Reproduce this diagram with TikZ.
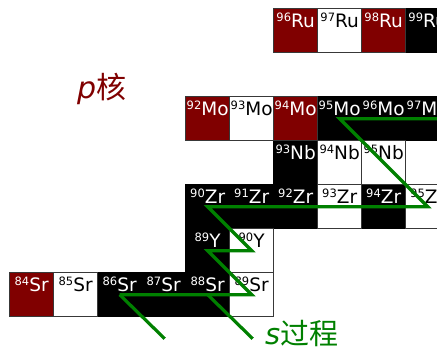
\documentclass[tikz,border=0pt]{standalone}
\usepackage{fontspec}
\setmainfont{DejaVu Sans}[ItalicFont={DejaVu Sans Oblique}]
\newfontfamily\cjk{Noto Sans CJK SC}
\definecolor{nred}{HTML}{800000}
\definecolor{ngreen}{HTML}{008000}
\tikzset{
  cell/.style={rectangle, draw=black!78, line width=1.3pt, minimum width=44pt, minimum height=44pt, inner sep=0pt, anchor=north west},
  bcell/.style={cell, fill=black, draw=black},
  rcell/.style={cell, fill=nred},
  wcell/.style={cell, fill=white},
  lbl/.style={anchor=base, inner sep=0pt},
  spath/.style={draw=ngreen, line width=3.2pt},
  bigtext/.style={anchor=base west, inner sep=0pt},
}
\newcommand\nuc[7]{%
  \node[#4] (#1) at ({9+44*#2},#3) {};
  \node[lbl, text=#5] at ([yshift=-19.5pt]#1.north) {\raisebox{6pt}{\fontsize{11.5}{11.5}\selectfont #6}\fontsize{18.5}{18.5}\selectfont #7};
}
\begin{document}
\begin{tikzpicture}[x=1pt,y=-1pt]
\useasboundingbox (0,0) rectangle (437,357);
\clip (0,0) rectangle (437,357);
% black cells first
\nuc{Sr86}{2}{272}{bcell}{white}{86}{Sr}
\nuc{Sr87}{3}{272}{bcell}{white}{87}{Sr}
\nuc{Sr88}{4}{272}{bcell}{white}{88}{Sr}
\nuc{Y89}{4}{228}{bcell}{white}{89}{Y}
\nuc{Zr90}{4}{184}{bcell}{white}{90}{Zr}
\nuc{Zr91}{5}{184}{bcell}{white}{91}{Zr}
\nuc{Zr92}{6}{184}{bcell}{white}{92}{Zr}
\nuc{Zr94}{8}{184}{bcell}{white}{94}{Zr}
\nuc{Nb93}{6}{140}{bcell}{white}{93}{Nb}
\nuc{Mo95}{7}{96}{bcell}{white}{95}{Mo}
\nuc{Mo96}{8}{96}{bcell}{white}{96}{Mo}
\nuc{Mo97}{9}{96}{bcell}{white}{97}{Mo}
\nuc{Ru99}{9}{8}{bcell}{white}{99}{Ru}
% other cells
\nuc{Sr84}{0}{272}{rcell}{white}{84}{Sr}
\nuc{Sr85}{1}{272}{wcell}{black}{85}{Sr}
\nuc{Sr89}{5}{272}{wcell}{black}{89}{Sr}
\nuc{Y90}{5}{228}{wcell}{black}{90}{Y}
\nuc{Zr93}{7}{184}{wcell}{black}{93}{Zr}
\nuc{Zr95}{9}{184}{wcell}{black}{95}{Zr}
\nuc{Nb94}{7}{140}{wcell}{black}{94}{Nb}
\nuc{Nb95}{8}{140}{wcell}{black}{95}{Nb}
\nuc{Mo92}{4}{96}{rcell}{white}{92}{Mo}
\nuc{Mo93}{5}{96}{wcell}{black}{93}{Mo}
\nuc{Mo94}{6}{96}{rcell}{white}{94}{Mo}
\nuc{Ru96}{6}{8}{rcell}{white}{96}{Ru}
\nuc{Ru97}{7}{8}{wcell}{black}{97}{Ru}
\nuc{Ru98}{8}{8}{rcell}{white}{98}{Ru}
% s-process path
\coordinate (moend) at ([xshift=140pt]Mo95.center);
\coordinate (e1) at ([shift={(45pt,-44pt)}]Sr86.center);
\coordinate (e2) at ([shift={(45pt,-44pt)}]Sr88.center);
\draw[spath] (Sr86.center) -- (Sr89.center) -- (Y89.center) -- (Y90.center)
  -- (Zr90.center) -- (Zr95.center) -- (Mo95.center) -- (moend);
\draw[spath] (Sr86.center) -- (e1);
\draw[spath] (Sr88.center) -- (e2);
% labels
\node[bigtext, text=nred] (plabel) at (77,98) {\fontsize{30}{30}\selectfont\textit{p}{\cjk 核}};
\node[bigtext, text=ngreen] (slabel) at (265,344) {\fontsize{29}{29}\selectfont\textit{s}{\cjk 过程}};
\end{tikzpicture}
\end{document}
